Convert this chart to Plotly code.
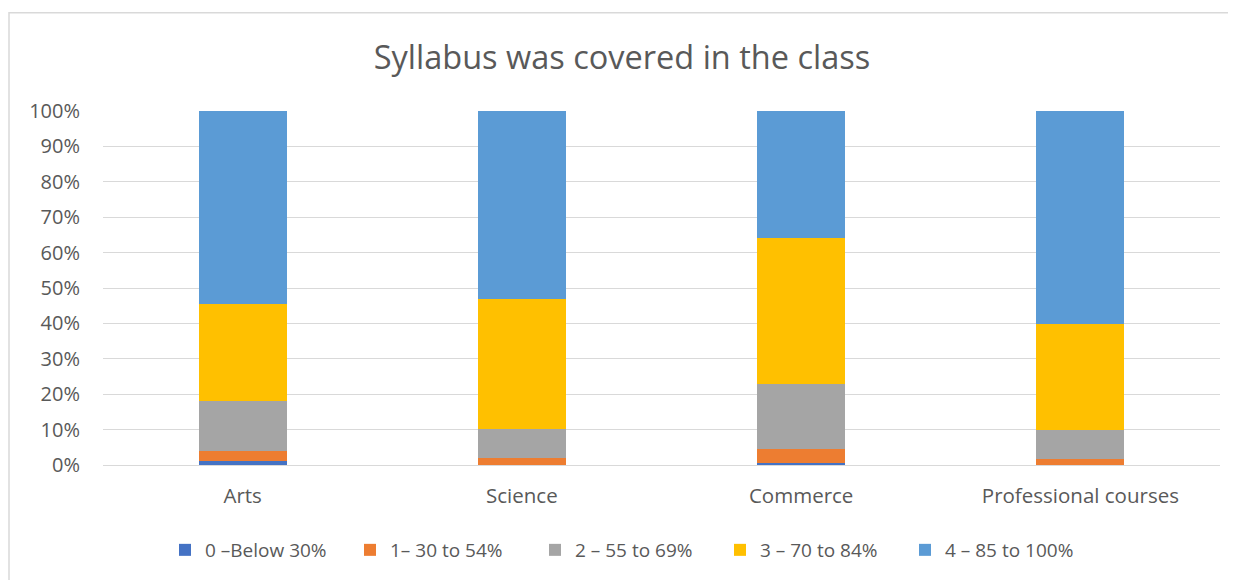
import plotly.graph_objects as go

categories = ["Arts", "Science", "Commerce", "Professional courses"]
series_names = ["0 –Below 30%", "1– 30 to 54%", "2 – 55 to 69%", "3 – 70 to 84%", "4 – 85 to 100%"]
s0 = [1.2, 0.0, 0.5, 0.0]
s1 = [2.8, 2.0, 3.9, 1.8]
s2 = [14.0, 8.2, 18.6, 8.2]
s3 = [27.5, 36.8, 41.2, 29.7]
s4 = [54.5, 53.0, 35.8, 60.3]
series_values = [s0, s1, s2, s3, s4]
colors = ["#4472C4", "#ED7D31", "#A5A5A5", "#FFC000", "#5B9BD5"]
tick_vals = [0, 10, 20, 30, 40, 50, 60, 70, 80, 90, 100]
tick_text = [f"{v}%" for v in tick_vals]

FONT = "Open Sans"
OFF = 8  # page body margin
fig = go.Figure()
for name, vals, c in zip(series_names, series_values, colors):
    fig.add_trace(go.Bar(x=categories, y=vals, name=name, marker_color=c,
                         marker_line_width=0))

W, H = 1236 - OFF, 580 - OFF
L, R, T, B = 103 - OFF, 16, 111 - OFF, 114
pw, ph = W - L - R, H - T - B

def px_x(x):
    return (x - OFF - L) / pw

def px_y(y):
    return (H - B - (y - OFF)) / ph

fig.update_layout(
    width=W, height=H,
    barmode="stack", bargap=0.685,
    margin=dict(l=L, r=R, t=T, b=B),
    paper_bgcolor="white", plot_bgcolor="white",
    title=dict(text="Syllabus was covered in the class", x=0.5, xanchor="center",
               y=1 - (58 - OFF) / H, yanchor="middle",
               font=dict(family=FONT, size=32.5, color="#595959")),
    font=dict(family=FONT, color="#595959"),
    xaxis=dict(showgrid=False, showline=True, linecolor="#D9D9D9", linewidth=1,
               tickfont=dict(size=20.5, color="#595959"), ticks="", ticklabelstandoff=12),
    yaxis=dict(range=[0, 100], tickvals=tick_vals, ticktext=tick_text,
               showgrid=True, gridcolor="#D9D9D9", gridwidth=1, zeroline=False,
               showline=False, ticks="", ticklabelstandoff=22,
               tickfont=dict(size=20, color="#595959")),
    legend=dict(orientation="h", x=px_x(165), xanchor="left",
                y=px_y(550), yanchor="middle",
                font=dict(size=19, color="#595959"), traceorder="normal",
                itemwidth=30, entrywidth=140, entrywidthmode="pixels"),
    showlegend=True,
)
fig.add_shape(type="rect", xref="paper", yref="paper",
              x0=px_x(9), x1=px_x(1250),
              y0=px_y(600), y1=px_y(12.5),
              line=dict(color="#D9D9D9", width=1.5), fillcolor="rgba(0,0,0,0)", layer="below")
fig.write_html("out.html")
